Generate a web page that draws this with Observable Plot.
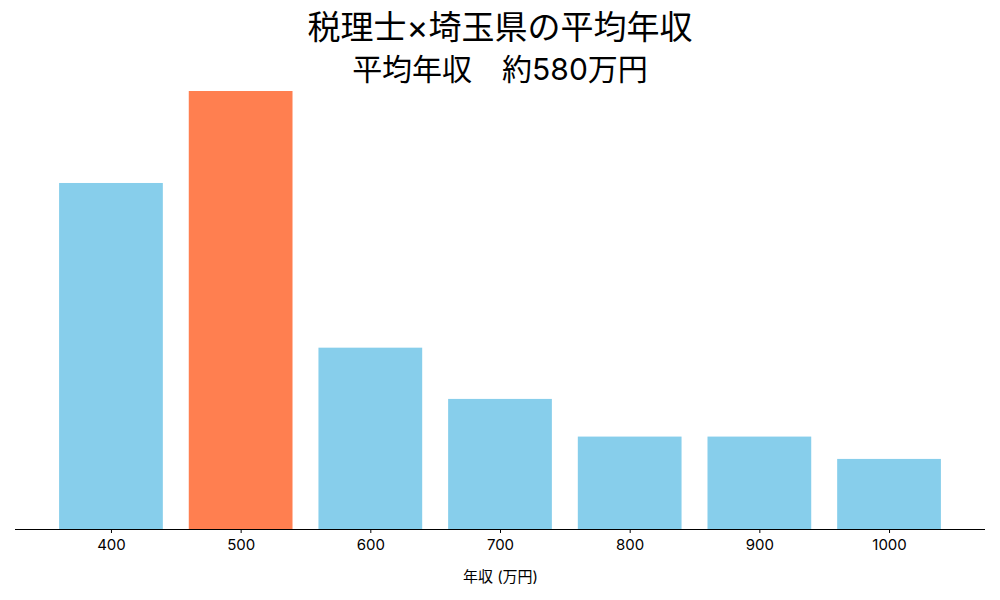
<!DOCTYPE html>
<html>
<head>
<meta charset="utf-8">
<script src="https://cdn.jsdelivr.net/npm/d3@7"></script>
<script src="https://cdn.jsdelivr.net/npm/@observablehq/plot@0.6"></script>
<style>
  html, body { margin: 0; padding: 0; background: #fff; }
  body { width: 1000px; height: 600px; overflow: hidden; font-family: Inter, "Noto Sans CJK JP", sans-serif; }
  #title { position: relative; height: 80px; width: 1000px; color: #000; }
  #title .l1 { position: absolute; left: 0; width: 1000px; text-align: center; top: 6px; font-size: 33px; line-height: 42px; }
  #title .l2 { position: absolute; left: 0; width: 1000px; text-align: center; top: 50px; font-size: 30px; line-height: 38px; }
  #chart svg { display: block; }
</style>
</head>
<body>
<div id="title"><div class="l1">税理士×埼玉県の平均年収</div><div class="l2">平均年収　約580万円</div></div>
<div id="chart"></div>
<script>
const categories = ["400", "500", "600", "700", "800", "900", "1000"];
const values = [79.0, 100, 41.4, 29.7, 21.1, 21.1, 16.0];
const highlight = "500";
const xLabel = "年収 (万円)";

const data = categories.map((c, i) => ({cat: c, value: values[i]}));

const chart = Plot.plot({
  width: 1000,
  height: 520,
  marginTop: 11,
  marginBottom: 71,
  marginLeft: 15,
  marginRight: 15,
  style: {fontFamily: 'Inter, "Noto Sans CJK JP", sans-serif', color: "#000", background: "#fff"},
  x: {domain: categories, paddingInner: 0.2, paddingOuter: 0.34, round: false},
  y: {domain: [0, 100], axis: null},
  marks: [
    Plot.barY(data, {x: "cat", y: "value", fill: d => d.cat === highlight ? "#FF7F50" : "#87CEEB"}),
    Plot.ruleY([0], {stroke: "#000", strokeWidth: 1}),
    Plot.axisX({tickSize: 4, tickPadding: 6, fontSize: 15, stroke: "#000", label: xLabel, labelAnchor: "center", labelOffset: 52, labelArrow: "none"})
  ]
});
document.getElementById("chart").appendChild(chart);
</script>
</body>
</html>
